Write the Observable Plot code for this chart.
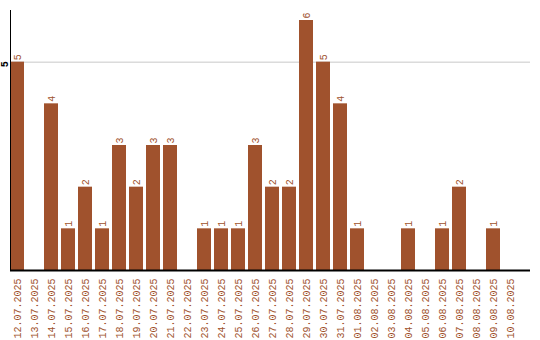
<!DOCTYPE html>
<html>
<head>
<meta charset="utf-8">
<script src="https://cdn.jsdelivr.net/npm/d3@7"></script>
<script src="https://cdn.jsdelivr.net/npm/@observablehq/plot@0.6"></script>
<style>
  body { margin: 0; background: #fff; }
  #chart svg { display: block; }
</style>
</head>
<body>
<div id="chart"></div>
<script>
const dates = ["12.07.2025","13.07.2025","14.07.2025","15.07.2025","16.07.2025","17.07.2025","18.07.2025","19.07.2025","20.07.2025","21.07.2025","22.07.2025","23.07.2025","24.07.2025","25.07.2025","26.07.2025","27.07.2025","28.07.2025","29.07.2025","30.07.2025","31.07.2025","01.08.2025","02.08.2025","03.08.2025","04.08.2025","05.08.2025","06.08.2025","07.08.2025","08.08.2025","09.08.2025","10.08.2025"];
const counts = [5,0,4,1,2,1,3,2,3,3,0,1,1,1,3,2,2,6,5,4,1,0,0,1,0,1,2,0,1,0];
const yTicks = [5];

const data = dates.map((d, i) => ({date: d, value: counts[i]}));
const brown = "#a0522d";

const chart = Plot.plot({
  width: 540,
  height: 340,
  marginTop: 10,
  marginBottom: 70,
  marginLeft: 10,
  marginRight: 10,
  style: {fontFamily: "Liberation Mono", fontSize: "10px", background: "#fff"},
  x: {domain: dates, paddingInner: 0.18, paddingOuter: 0.384, align: 0},
  y: {domain: [0, 6.24]},
  marks: [
    Plot.gridY(yTicks, {stroke: "#c8c8c8", strokeOpacity: 1, strokeWidth: 1}),
    Plot.barY(data, {x: "date", y: "value", fill: brown}),
    Plot.text(data.filter(d => d.value > 0), {
      x: "date", y: "value", text: d => String(d.value),
      rotate: -90, textAnchor: "start", lineAnchor: "middle",
      dy: -2, fill: brown, fontSize: 10
    }),
    Plot.ruleY([0], {stroke: "#000", strokeWidth: 2}),
    Plot.frame({anchor: "left", stroke: "#000", strokeWidth: 1}),
    Plot.axisX({tickSize: 0, tickPadding: 8, tickRotate: -90, fill: brown, label: null, fontSize: 10}),
    Plot.axisY(yTicks, {tickSize: 0, tickPadding: 0, tickRotate: -90, fontSize: 10, fontWeight: "bold", fill: "#000", label: null, textAnchor: "middle", lineAnchor: "middle", dx: -6, dy: 2})
  ]
});
document.getElementById("chart").append(chart);
</script>
</body>
</html>
